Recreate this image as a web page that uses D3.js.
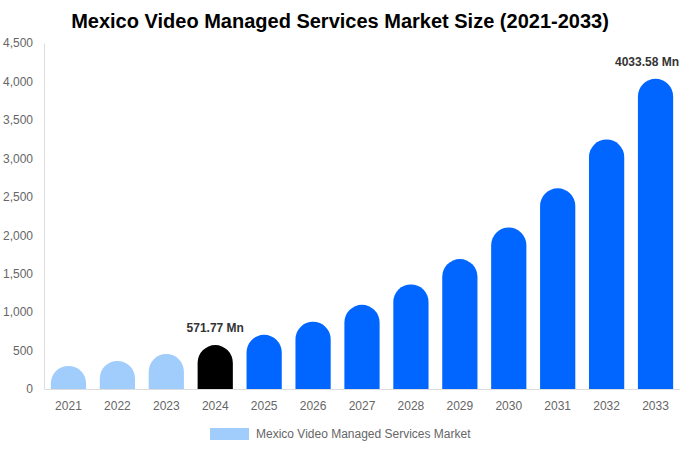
<!DOCTYPE html>
<html><head><meta charset="utf-8">
<script src="https://cdn.jsdelivr.net/npm/d3@7"></script>
<style>body{margin:0;background:#fff;font-family:"Liberation Sans",Arial,sans-serif;}</style>
</head><body><svg id="c" width="680" height="450"></svg>
<script>
const years = ["2021","2022","2023","2024","2025","2026","2027","2028","2029","2030","2031","2032","2033"];
const values = [300, 365, 455, 571.77, 705, 875, 1095, 1360, 1690, 2100, 2610, 3245, 4033.58];
const yTicks = [0, 500, 1000, 1500, 2000, 2500, 3000, 3500, 4000, 4500];
const labelled = {"2024": "571.77 Mn", "2033": "4033.58 Mn"};
const colorHist = "#a0cdfc", colorBase = "#000000", colorFcst = "#0066ff";

const svg = d3.select("#c");
const m = {l:44, r:0, t:43, b:61};
const W = 680, H = 450;
const x = d3.scaleBand().domain(years).range([m.l, W - m.r]).paddingInner(0.28).paddingOuter(0.14);
const y = d3.scaleLinear().domain([0, 4500]).range([H - m.b, m.t]);

svg.append("text").attr("x", 340).attr("y", 28).attr("text-anchor", "middle")
  .style("font-size", "20px").style("font-weight", "bold").attr("fill", "#000")
  .text("Mexico Video Managed Services Market Size (2021-2033)");

// y axis
const ya = svg.append("g").attr("transform", `translate(${m.l},0)`)
  .call(d3.axisLeft(y).tickValues(yTicks).tickFormat(d3.format(",")).tickSize(0).tickPadding(11));
ya.select(".domain").attr("stroke", "#ddd");
ya.selectAll("text").attr("fill", "#666").style("font-size", "12px").style("font-family", "Liberation Sans, Arial, sans-serif");

// x axis
const xa = svg.append("g").attr("transform", `translate(0,${H - m.b})`)
  .call(d3.axisBottom(x).tickSize(0).tickPadding(12));
xa.select(".domain").attr("stroke", "#ddd");
xa.selectAll("text").attr("fill", "#666").style("font-size", "12px").style("font-family", "Liberation Sans, Arial, sans-serif");

function color(d, i) { return d < "2024" ? colorHist : d === "2024" ? colorBase : colorFcst; }
function barPath(d, i) {
  const x0 = x(d), w = x.bandwidth(), y0 = y(0), y1 = y(values[i]);
  const r = Math.min(w / 2, y0 - y1);
  return `M${x0},${y0} L${x0},${y1 + r} A${r},${r} 0 0 1 ${x0 + r},${y1} L${x0 + w - r},${y1} A${r},${r} 0 0 1 ${x0 + w},${y1 + r} L${x0 + w},${y0} Z`;
}
svg.append("g").selectAll("path").data(years).join("path")
  .attr("d", barPath).attr("fill", color);

svg.append("g").selectAll("text").data(years.filter(d => labelled[d])).join("text")
  .attr("x", d => x(d) + x.bandwidth() / 2)
  .attr("y", d => y(values[years.indexOf(d)]) - 13)
  .attr("text-anchor", "middle").style("font-size", "12px").style("font-weight", "bold")
  .attr("fill", "#333").text(d => labelled[d])
  .each(function() {
    const bb = this.getBBox();
    if (bb.x + bb.width > W - 1) {
      d3.select(this).attr("x", +d3.select(this).attr("x") - (bb.x + bb.width - (W - 1)));
    }
  });

// legend
svg.append("rect").attr("x", 210).attr("y", 428).attr("width", 39).attr("height", 12).attr("fill", colorHist);
svg.append("text").attr("x", 256).attr("y", 438).style("font-size", "12px").attr("fill", "#666")
  .text("Mexico Video Managed Services Market");
</script></body></html>
